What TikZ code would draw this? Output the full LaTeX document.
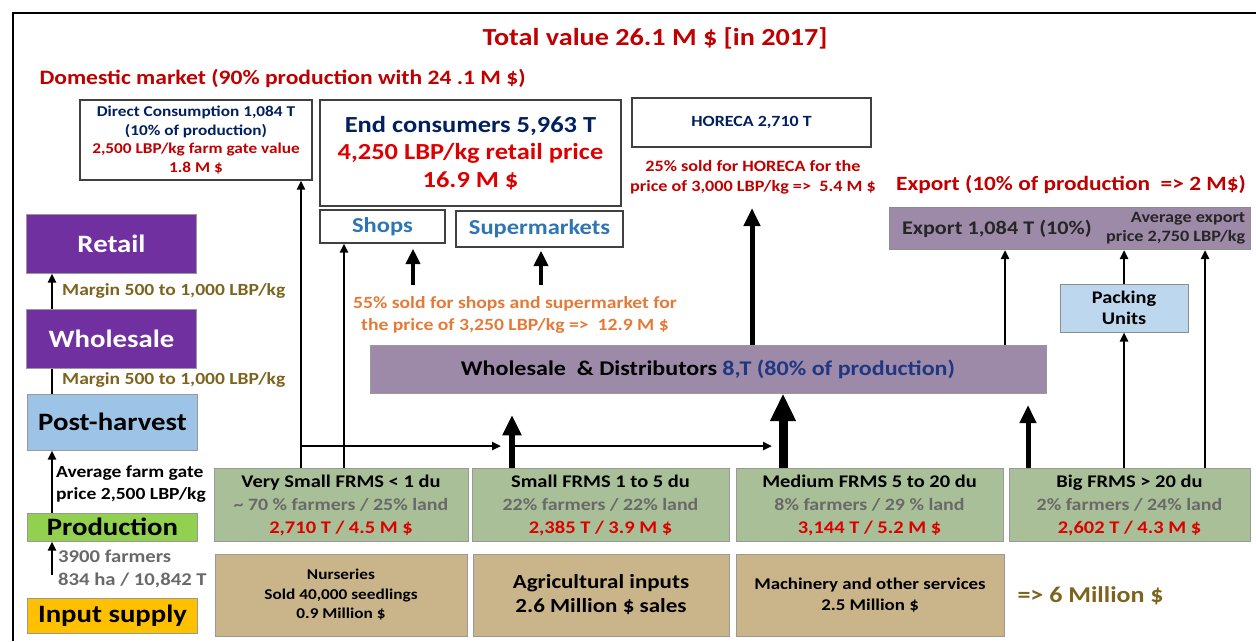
\documentclass[tikz,border=0pt]{standalone}
\usepackage{fontspec}
\setmainfont{Carlito}[FakeStretch=1.15]
\usetikzlibrary{arrows.meta}
\definecolor{tred}{RGB}{192,0,0}
\definecolor{vred}{RGB}{222,0,0}
\definecolor{navy}{RGB}{0,32,96}
\definecolor{navytwo}{RGB}{32,56,130}
\definecolor{olive}{RGB}{125,100,30}
\definecolor{orng}{RGB}{228,122,55}
\definecolor{sblue}{RGB}{46,117,182}
\definecolor{fgreen}{RGB}{169,191,152}
\definecolor{ftan}{RGB}{201,181,137}
\definecolor{wdpurple}{RGB}{157,137,168}
\definecolor{rpurple}{RGB}{112,48,160}
\definecolor{pblue}{RGB}{157,195,230}
\definecolor{lblue}{RGB}{189,215,238}
\definecolor{pgreen}{RGB}{146,208,80}
\definecolor{iorange}{RGB}{255,192,0}
\definecolor{fgray}{RGB}{105,105,105}
\newcommand{\fs}[2]{\fontsize{#1}{#2}\selectfont}
\newcommand{\farmsub}[1]{{\color{fgray}\fs{17.3}{23}#1}}

\begin{document}
\begin{tikzpicture}[x=1pt,y=-1pt,
  wbox/.style={draw=black!75,fill=white,line width=1.2pt,align=center,inner sep=0pt},
  stage/.style={draw=black!40,line width=1pt,align=center,inner sep=0pt,minimum width=170,font=\fs{25}{30}\bfseries},
  farm/.style={draw=black!40,fill=fgreen,line width=1pt,align=center,inner sep=0pt,minimum height=73,font=\fs{17.8}{23}\bfseries},
  supply/.style={draw=black!40,fill=ftan,line width=1pt,align=center,inner sep=0pt,minimum height=82},
  lbl/.style={anchor=west,align=left,inner sep=0pt,font=\fs{17}{22}\bfseries},
  flow/.style={line width=2.5pt,-{Triangle[length=9pt,width=8pt]}},
  fatflow/.style={line width=#1,-{Triangle[length=6pt 2.4,width=6pt 2]}}]
\useasboundingbox (0,0) rectangle (1256,641);
\draw[line width=2pt] (13,641) -- (13,13) -- (1256,13);

\node[font=\fs{24.5}{28}\bfseries,text=tred] (title) at (655,38) {Total value 26.1 M \$ [in 2017]};
\node[anchor=west,font=\fs{20.5}{24}\bfseries,text=tred] (domestic) at (36,78) {Domestic market (90\% production with 24 .1 M \$)};

\node[wbox,minimum width=232,minimum height=80,font=\fs{15}{18.5}\bfseries] (direct) at (196,140)
  {\textcolor{navy}{Direct Consumption 1,084 T}\\\textcolor{navy}{(10\% of production)}\\
   \textcolor{tred}{2,500 LBP/kg farm gate value}\\\textcolor{tred}{1.8 M \$}};
\node[wbox,minimum width=301,minimum height=106,font=\fs{23}{27.5}\bfseries] (endcons) at (470.5,153)
  {\textcolor{navy}{End consumers 5,963 T}\\\textcolor{vred}{4,250 LBP/kg retail price}\\\textcolor{vred}{16.9 M \$}};
\node[wbox,minimum width=239,minimum height=49,font=\fs{15.6}{18}\bfseries,text=navy] (horeca) at (751.5,122.5) {HORECA 2,710 T};
\node[font=\fs{15.8}{20}\bfseries,text=tred,align=center] (horecanote) at (753,177)
  {25\% sold for HORECA for the\\price of 3,000 LBP/kg => \ 5.4 M \$};
\node[wbox,minimum width=125,minimum height=33,font=\fs{21.3}{24}\bfseries,text=sblue] (shops) at (382.5,226.5) {Shops};
\node[wbox,minimum width=167,minimum height=36,font=\fs{21.3}{24}\bfseries,text=sblue] (supermkt) at (539.5,229) {Supermarkets};
\node[font=\fs{17.1}{22}\bfseries,text=orng,align=center] (shopnote) at (515,315)
  {55\% sold for shops and supermarket for\\the price of 3,250 LBP/kg => \ 12.9 M \$};

\node[draw=black!40,fill=wdpurple,line width=1pt,minimum width=676,minimum height=48,font=\fs{20.9}{24}\bfseries] (wd) at (708,369)
  {Wholesale \ \& Distributors \textcolor{navytwo}{8,T (80\% of production)}};

\node[font=\fs{20.3}{24}\bfseries,text=tred] (exptitle) at (1071,185) {Export (10\% of production \ => 2 M\$)};
\node[draw=black!45,fill=wdpurple,line width=1pt,minimum width=361,minimum height=42] (export) at (1069.5,228.5) {};
\node[anchor=west,font=\fs{19.3}{24}\bfseries,text=black!85] (exptext) at ([xshift=10pt]export.west) {Export 1,084 T (10\%)};
\node[anchor=east,align=right,inner sep=0pt,font=\fs{15.8}{19}\bfseries,text=black!85] (expprice) at ([xshift=-5pt]export.east)
  {Average export\\price 2,750 LBP/kg};
\node[draw=black!45,fill=lblue,line width=1pt,minimum width=128,minimum height=48,align=center,font=\fs{17.7}{21}\bfseries] (packing) at (1124,308)
  {Packing\\Units};

\node[stage,fill=rpurple,text=white,minimum height=59] (retail) at (111.5,243.5) {Retail};
\node[stage,fill=rpurple,text=white,minimum height=59] (wholesale) at (111.5,338.5) {Wholesale};
\node[stage,fill=pblue,minimum height=56] (post) at (112.5,422) {Post-harvest};
\node[stage,fill=pgreen,minimum height=28] (prod) at (112.5,527) {Production};
\node[stage,fill=iorange,minimum height=35] (input) at (112.5,615.5) {Input supply};
\node[lbl,text=olive] (margintop) at (62,291) {Margin 500 to 1,000 LBP/kg};
\node[lbl,text=olive] (marginlow) at (62,380) {Margin 500 to 1,000 LBP/kg};
\node[lbl] (gate) at (56,484) {Average farm gate\\price 2,500 LBP/kg};
\node[lbl,text=fgray,font=\fs{18}{23}\bfseries] (farmers) at (58,569) {3900 farmers\\834 ha / 10,842 T};

\node[farm,minimum width=254] (vsmall) at (341,505)
  {Very Small FRMS < 1 du\\\farmsub{\textasciitilde{} 70 \% farmers / 25\% land}\\\textcolor{vred}{2,710 T / 4.5 M \$}};
\node[farm,minimum width=257] (small) at (600.5,505)
  {Small FRMS 1 to 5 du\\\farmsub{22\% farmers / 22\% land}\\\textcolor{vred}{2,385 T / 3.9 M \$}};
\node[farm,minimum width=267] (medium) at (869.5,505)
  {Medium FRMS 5 to 20 du\\\farmsub{8\% farmers / 29 \% land}\\\textcolor{vred}{3,144 T / 5.2 M \$}};
\node[farm,minimum width=241] (big) at (1129.5,505)
  {Big FRMS > 20 du\\\farmsub{2\% farmers / 24\% land}\\\textcolor{vred}{2,602 T / 4.3 M \$}};

\node[supply,minimum width=252,font=\fs{15}{19.5}\bfseries] (nursery) at (341,595) {Nurseries\\Sold 40,000 seedlings\\0.9 Million \$};
\node[supply,minimum width=256,font=\fs{20}{24}\bfseries] (agri) at (601,595) {Agricultural inputs\\2.6 Million \$ sales};
\node[supply,minimum width=268,font=\fs{16.4}{21}\bfseries] (machinery) at (870,595) {Machinery and other services\\2.5 Million \$};
\node[anchor=west,font=\fs{22.6}{26}\bfseries,text=olive] (sixm) at (1014,596) {=> 6 Million \$};

\coordinate (lcol) at (52,0);
\coordinate (dcx) at (301,0);
\coordinate (shx) at (344,0);
\coordinate (sfx) at (512,0);
\coordinate (mfx) at (783,0);
\coordinate (bfx) at (1028,0);
\coordinate (hox) at (752,0);
\coordinate (exx) at (1005,0);
\coordinate (brx) at (1205,0);
\coordinate (inp) at (52,575);
\coordinate (h1) at (301,446);
\coordinate (h2) at (501,446);
\coordinate (h3) at (512,446);
\coordinate (h4) at (772,446);
\coordinate (s1) at (413,285);
\coordinate (s2) at (541,285);
\coordinate (sftip) at (512,415);
\coordinate (bftip) at (1028,405);
\coordinate (hotip) at (752,208);

\draw[flow] (wholesale.north -| lcol) -- (retail.south -| lcol);
\draw[line width=2.5pt] (post.north -| lcol) -- (wholesale.south -| lcol);
\draw[flow] (prod.north -| lcol) -- (post.south -| lcol);
\draw[flow] (inp) -- (prod.south -| lcol);

\draw[flow] (vsmall.north -| dcx) -- (direct.south -| dcx);
\draw[flow] (vsmall.north -| shx) -- (shops.south -| shx);
\draw[flow] (h1) -- (h2);
\draw[flow] (h3) -- (h4);
\draw[fatflow=4pt,shorten >=5pt] (s1) -- (shops.south -| s1);
\draw[fatflow=4pt,shorten >=3pt] (s2) -- (supermkt.south -| s2);
\draw[fatflow=6pt] (small.north -| sfx) -- (sftip);
\draw[fatflow=9pt] (medium.north -| mfx) -- (wd.south -| mfx);
\draw[fatflow=5pt] (big.north -| bfx) -- (bftip);
\draw[fatflow=5pt] (wd.north -| hox) -- (hotip);
\draw[flow] (wd.north -| exx) -- (export.south -| exx);
\draw[flow] (big.north -| packing.south) -- (packing.south);
\draw[flow] (packing.north) -- (export.south -| packing.north);
\draw[flow] (big.north -| brx) -- (export.south -| brx);
\end{tikzpicture}
\end{document}
